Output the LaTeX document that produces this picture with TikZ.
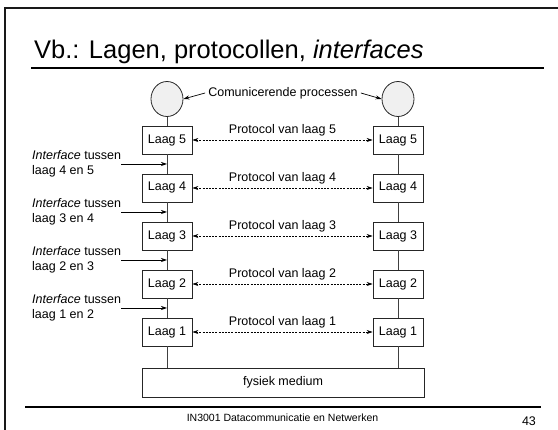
\documentclass[tikz,border=0pt]{standalone}
\usepackage{fontspec}
\setmainfont{Liberation Sans}
\usetikzlibrary{arrows.meta,shapes.geometric}
\begin{document}
\begin{tikzpicture}[x=1pt,y=-1pt,
  txt/.style={font=\fontsize{12.5}{15.5}\selectfont, inner sep=0pt},
  laag/.style={draw=black!85, line width=0.8pt, fill=white, minimum width=50pt,
    minimum height=28pt, inner sep=0pt, font=\fontsize{12.5}{15}\selectfont},
  proc/.style={ellipse, draw=black!85, line width=0.8pt, fill=black!6,
    minimum width=32pt, minimum height=35pt, inner sep=0pt},
  stack/.style={draw=black!75, line width=0.8pt},
  arr/.style={draw=black, line width=0.7pt, -{Stealth[length=6pt,width=4pt]}},
  proto/.style={draw=black, line width=0.6pt, dash pattern=on 2pt off 1.2pt,
    {Stealth[length=6pt,width=4pt]}-{Stealth[length=6pt,width=4pt]}}]
\useasboundingbox (0,0) rectangle (558,430);

% slide frame
\draw[line width=2pt, black!90] (5,430) -- (5,8) -- (558,8);

% title and rule
\node[anchor=base west, inner sep=0pt, font=\fontsize{25.5}{30}\selectfont]
  (title) at (34,58.3) {Vb.: Lagen, protocollen, \textit{interfaces}};
\draw[line width=1.4pt] (31,68) -- (544,68);

% communicating processes
\node[proc] (pL) at (167,99) {};
\node[proc] (pR) at (398,99) {};

% physical medium
\node[laag, minimum width=282pt, minimum height=29pt] (med) at (283,382.5) {fysiek medium};

% layer boxes
\foreach \i in {1,...,5}{
  \pgfmathsetmacro{\yy}{332-(\i-1)*48}
  \node[laag] (L\i) at (167,\yy) {Laag \i};
  \node[laag] (R\i) at (398,\yy) {Laag \i};
}

% vertical stacks
\begin{scope}[on background layer/.style={}]
\draw[stack] (pL) -- (L5);
\draw[stack] (pR) -- (R5);
\foreach \a/\b in {5/4,4/3,3/2,2/1}{
  \draw[stack] (L\a) -- (L\b);
  \draw[stack] (R\a) -- (R\b);
}
\draw[stack] (L1) -- (L1 |- med.north);
\draw[stack] (R1) -- (R1 |- med.north);
\end{scope}

% peer protocols
\foreach \i in {1,...,5}{
  \draw[proto] (L\i.east) -- (R\i.west);
  \path (L\i.east) -- (R\i.west) node[midway, txt, yshift=10pt] (p\i) {Protocol van laag \i};
}

% communicating processes label
\node[txt] (cp) at (283,93) {Comunicerende processen};
\draw[arr] ([xshift=-3pt]cp.west) -- (pL.east);
\draw[arr] ([xshift=3pt]cp.east) -- (pR.west);

% interfaces between layers
\foreach \a/\b/\yy in {4/5/164,3/4/212,2/3/260,1/2/308}{
  \node[txt, anchor=west, align=left] (if\a) at (32,\yy)
    {\textit{Interface} tussen\\laag \a\ en \b};
  \coordinate (ip\a) at (167,\yy);
  \draw[arr] (if\a.east) -- (ip\a);
}

% footer
\draw[line width=1.2pt] (25,407) -- (541,407);
\node[inner sep=0pt, font=\fontsize{10.5}{12}\selectfont] (foot) at (282.5,417.5)
  {IN3001 Datacommunicatie en Netwerken};
\node[inner sep=0pt, font=\fontsize{12.5}{15}\selectfont] (pg) at (529,421) {43};
\end{tikzpicture}
\end{document}
